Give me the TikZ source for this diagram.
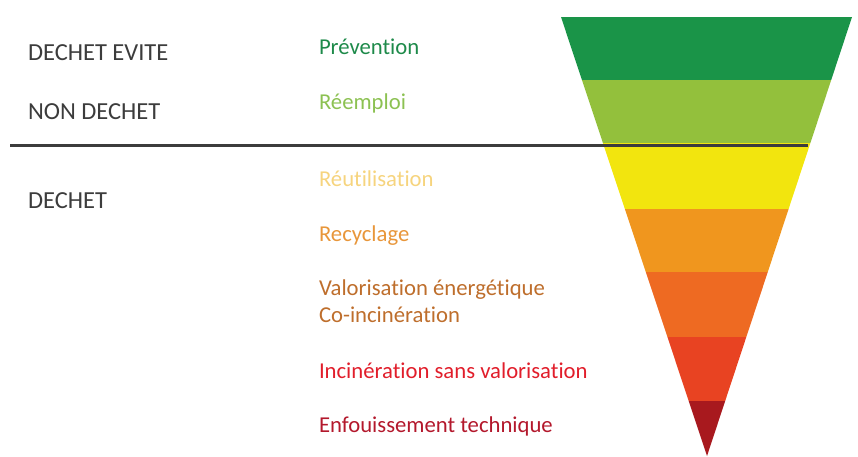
\documentclass[tikz,border=0pt]{standalone}
\usepackage{fontspec}
\setmainfont{Carlito}[Ligatures=NoCommon]
\usepackage{tikz}
\usetikzlibrary{positioning}
\definecolor{BandPrev}{HTML}{1A9448}
\definecolor{BandReem}{HTML}{93C03C}
\definecolor{BandReut}{HTML}{F2E50E}
\definecolor{BandRecy}{HTML}{F0961E}
\definecolor{BandValo}{HTML}{EE6A22}
\definecolor{BandInci}{HTML}{E84322}
\definecolor{BandEnfo}{HTML}{A8191E}
\definecolor{TxtPrev}{HTML}{1E8A4A}
\definecolor{TxtReem}{HTML}{8CC152}
\definecolor{TxtReut}{HTML}{F6D47E}
\definecolor{TxtRecy}{HTML}{E8963A}
\definecolor{TxtValo}{HTML}{BE6E2C}
\definecolor{TxtInci}{HTML}{E11E2B}
\definecolor{TxtEnfo}{HTML}{B3182C}
\definecolor{LabelGray}{HTML}{3C3C3C}

\begin{document}
\begin{tikzpicture}[x=1pt,y=-1pt,
    every node/.style={inner sep=0pt,outer sep=0pt,anchor=base west},
    category/.style={text=LabelGray,font=\fontsize{24.5}{28}\selectfont},
    level/.style={align=left,font=\fontsize{22.7}{26}\selectfont}]
  \useasboundingbox (0,0) rectangle (858,457);
  \coordinate (topL) at (561,17);
  \coordinate (topR) at (852,17);
  \coordinate (apex) at (707,456);
  \begin{scope}
    \clip (topL) -- (topR) -- (apex) -- cycle;
    \foreach \ytop/\ybot/\col in {17/80/BandPrev,80/143/BandReem,143/209/BandReut,
        209/272/BandRecy,272/337/BandValo,337/401/BandInci,401/457/BandEnfo}
      \fill[\col] (550,\ytop) rectangle (860,\ybot);
  \end{scope}
  \coordinate (lineL) at (10,145.5);
  \coordinate (lineR) at (808,145.5);
  \draw[LabelGray,line width=3.3pt] (lineL) -- (lineR);

  \node[category] (evite) at (28,61) {DECHET EVITE};
  \node[category] (nondechet) at (28,120) {NON DECHET};
  \node[category] (dechet) at (28,208) {DECHET};

  \node[level,text=TxtPrev] (prev) at (319,55) {Prévention};
  \node[level,text=TxtReem] (reem) at (319,110) {Réemploi};
  \node[level,text=TxtReut] (reut) at (319,186) {Réutilisation};
  \node[level,text=TxtRecy] (recy) at (319,241) {Recyclage};
  \node[level,text=TxtValo] (valo) at (319,295) {Valorisation énergétique};
  \node[level,text=TxtValo] (coinc) at (319,322) {Co-incinération};
  \node[level,text=TxtInci] (inci) at (319,378) {Incinération sans valorisation};
  \node[level,text=TxtEnfo] (enfo) at (319,432) {Enfouissement technique};
\end{tikzpicture}
\end{document}
